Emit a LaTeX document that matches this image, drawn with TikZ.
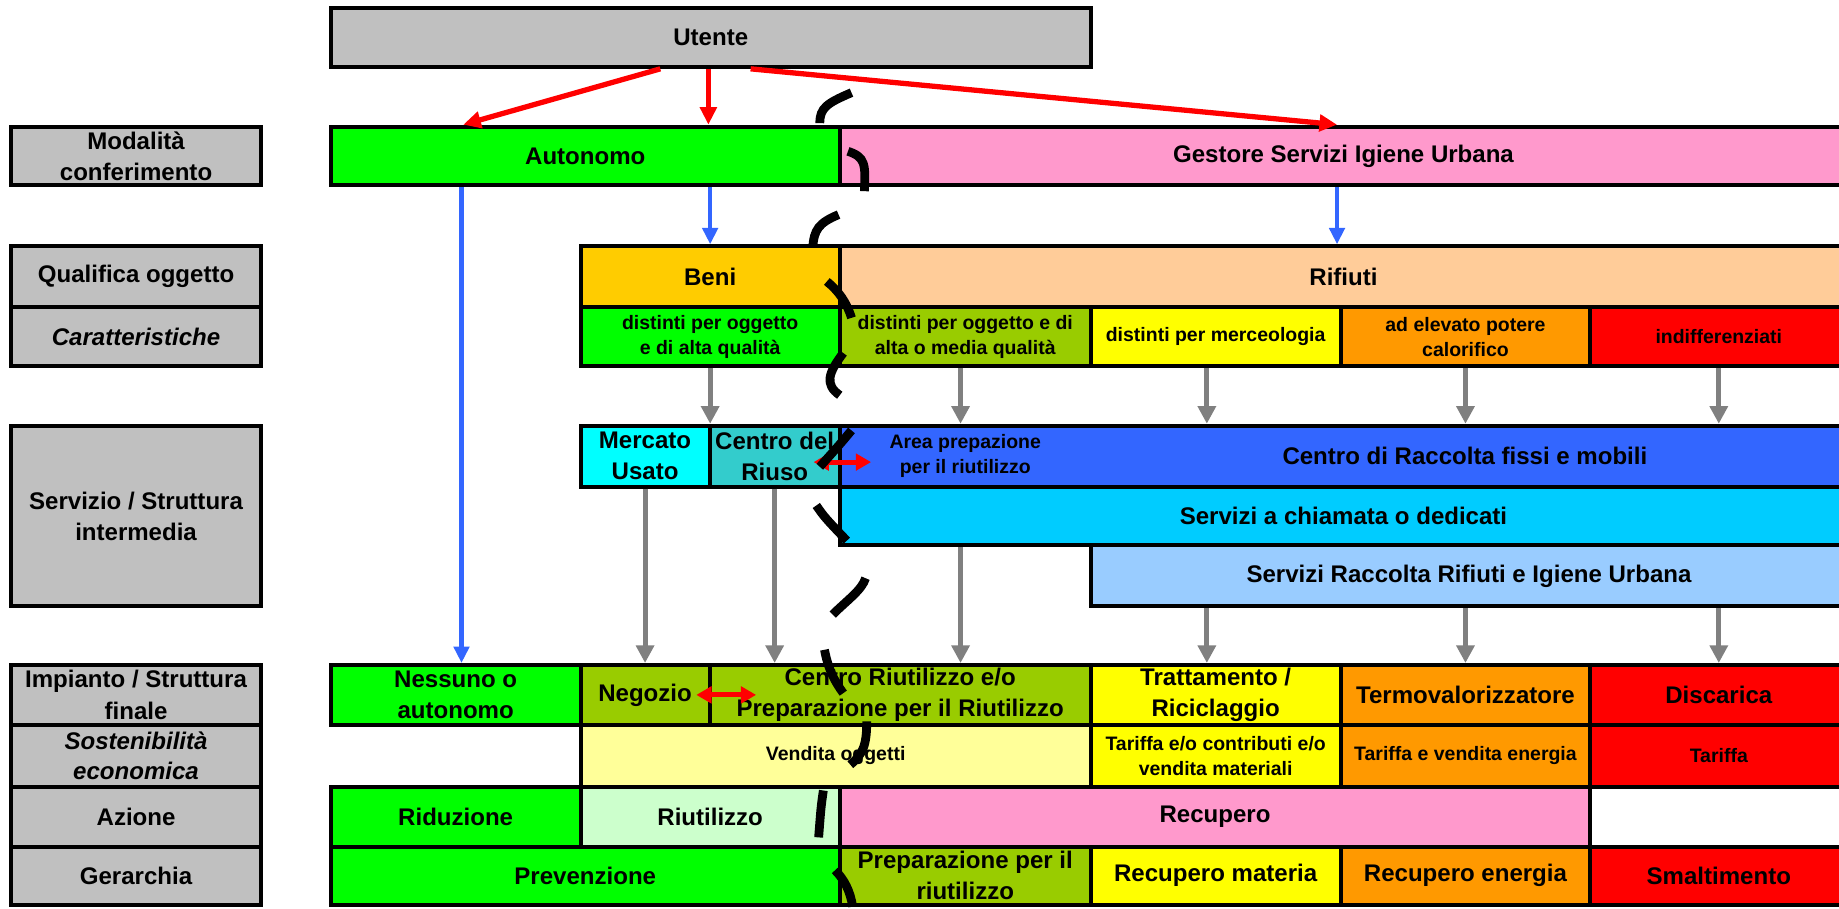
\documentclass[tikz,border=0pt]{standalone}
\usepackage{fontspec}
\setmainfont{Liberation Sans}
\usetikzlibrary{arrows.meta,calc}
\definecolor{lgray}{HTML}{C0C0C0}
\definecolor{cgreen}{HTML}{00FF00}
\definecolor{cpink}{HTML}{FF99CC}
\definecolor{cbeni}{HTML}{FFCC00}
\definecolor{crif}{HTML}{FFCC99}
\definecolor{colive}{HTML}{99CC00}
\definecolor{cyellow}{HTML}{FFFF00}
\definecolor{corange}{HTML}{FF9900}
\definecolor{cred}{HTML}{FF0000}
\definecolor{ccyan}{HTML}{00FFFF}
\definecolor{cteal}{HTML}{33CCCC}
\definecolor{cblue}{HTML}{3366FF}
\definecolor{csky}{HTML}{00CCFF}
\definecolor{clblue}{HTML}{99CCFF}
\definecolor{clyellow}{HTML}{FFFF99}
\definecolor{clgreen}{HTML}{CCFFCC}
\definecolor{cgrayarr}{HTML}{808080}
\newcommand\cell[8][]{%
  \pgfmathsetmacro\cellW{#5-#3}\pgfmathsetmacro\cellH{#6-#4}%
  \node[cellbox,fill=#7,minimum width=\cellW pt,minimum height=\cellH pt,#1] (#2) at ({(#3+#5)/2},{(#4+#6)/2}) {#8};}
\begin{document}
\begin{tikzpicture}[x=1pt,y=-1pt,
  cellbox/.style={draw=black,line width=3.4pt,inner sep=0pt,align=center,text=black,
    font=\bfseries\fontsize{20.5}{26.5}\selectfont},
  small/.style={font=\bfseries\fontsize{16.6}{21.3}\selectfont},
  ital/.style={font=\bfseries\itshape\fontsize{20.5}{25}\selectfont},
  txt/.style={inner sep=0pt,align=center,text=black,font=\bfseries\fontsize{20.5}{26.5}\selectfont},
  redarr/.style={draw=cred,line width=4.5pt,-{Triangle[length=15pt,width=14pt]}},
  redboth/.style={draw=cred,line width=4.3pt,{Triangle[length=13pt,width=14pt]}-{Triangle[length=13pt,width=14pt]}},
  bluearr/.style={draw=cblue,line width=3.5pt,-{Triangle[length=14pt,width=13pt]}},
  grayarr/.style={draw=cgrayarr,line width=4.3pt,-{Triangle[length=15pt,width=15pt]}},
  dashline/.style={draw=black,line width=7.5pt,line cap=butt}]
\useasboundingbox (0,0) rectangle (1568,775);
\clip (0,0) rectangle (1568,775);
% left labels
\cell{lab1}{9.7}{108}{222.3}{158}{lgray}{Modalità\\conferimento}
\cell{lab2}{9.7}{210}{222.3}{262}{lgray}{Qualifica oggetto}
\cell[ital]{lab3}{9.7}{262}{222.3}{312}{lgray}{Caratteristiche}
\cell{lab4}{9.7}{363}{222.3}{517}{lgray}{Servizio / Struttura\\intermedia}
\cell{lab5}{9.7}{567}{222.3}{618}{lgray}{Impianto / Struttura\\finale}
\cell[ital]{lab6}{9.7}{618}{222.3}{671}{lgray}{Sostenibilità\\economica}
\cell{lab7}{9.7}{671}{222.3}{722}{lgray}{Azione}
\cell{lab8}{9.7}{722}{222.3}{771.3}{lgray}{Gerarchia}
% top
\cell{utente}{282}{7}{930}{57}{lgray}{Utente}
\cell{autonomo}{282}{108}{716}{158}{cgreen}{Autonomo}
\cell{gestore}{716}{108}{1575}{158}{cpink}{Gestore Servizi Igiene Urbana}
% qualifica
\cell{beni}{495}{210}{716}{262}{cbeni}{Beni}
\cell{rifiuti}{716}{210}{1575}{262}{crif}{Rifiuti}
\cell[small]{c1}{495}{262}{716}{312}{cgreen}{distinti per oggetto\\e di alta qualità}
\cell[small]{c2}{716}{262}{930}{312}{colive}{distinti per oggetto e di\\alta o media qualità}
\cell[small]{c3}{930}{262}{1143}{312}{cyellow}{distinti per merceologia}
\cell[small]{c4}{1143}{262}{1356}{312}{corange}{ad elevato potere\\calorifico}
\cell[small]{c5}{1356}{262}{1575}{312}{cred}{indifferenziati}
% servizio
\cell{mercato}{495}{363}{605}{415}{ccyan}{Mercato\\Usato}
\cell{riuso}{605}{363}{716}{415}{cteal}{Centro del\\Riuso}
\cell{raccolta}{716}{363}{1575}{415}{cblue}{}
\node[txt,small] (areatxt) at (823,389) {Area prepazione\\per il riutilizzo};
\node[txt] (raccoltatxt) at (1249,389) {Centro di Raccolta fissi e mobili};
\cell{chiamata}{716}{415}{1575}{465}{csky}{Servizi a chiamata o dedicati}
\cell{srru}{930}{465}{1575}{517}{clblue}{Servizi Raccolta Rifiuti e Igiene Urbana}
% impianto
\cell{nessuno}{282}{567}{495}{618}{cgreen}{Nessuno o\\autonomo}
\cell{negozio}{495}{567}{605}{618}{colive}{Negozio}
\cell{criut}{605}{567}{930}{618}{colive}{Centro Riutilizzo e/o\\Preparazione per il Riutilizzo}
\cell{tratt}{930}{567}{1143}{618}{cyellow}{Trattamento /\\Riciclaggio}
\cell{termo}{1143}{567}{1356}{618}{corange}{Termovalorizzatore}
\cell{disc}{1356}{567}{1575}{618}{cred}{Discarica}
% sostenibilita
\cell[small]{vendita}{495}{618}{930}{671}{clyellow}{Vendita oggetti}
\cell[small]{tar1}{930}{618}{1143}{671}{cyellow}{Tariffa e/o contributi e/o\\vendita materiali}
\cell[small]{tar2}{1143}{618}{1356}{671}{corange}{Tariffa e vendita energia}
\cell[small]{tar3}{1356}{618}{1575}{671}{cred}{Tariffa}
% azione
\cell{rid}{282}{671}{495}{722}{cgreen}{Riduzione}
\cell{riut}{495}{671}{716}{722}{clgreen}{Riutilizzo}
\cell{recup}{716}{671}{1356}{722}{cpink}{Recupero}
\cell{blank}{1356}{671}{1575}{722}{white}{}
% gerarchia
\cell{prev}{282}{722}{716}{771.3}{cgreen}{Prevenzione}
\cell{prep}{716}{722}{930}{771.3}{colive}{Preparazione per il\\riutilizzo}
\cell{rmat}{930}{722}{1143}{771.3}{cyellow}{Recupero materia}
\cell{rene}{1143}{722}{1356}{771.3}{corange}{Recupero energia}
\cell{smalt}{1356}{722}{1575}{771.3}{cred}{Smaltimento}
% red arrows from Utente
\draw[redarr] ([xshift=-43pt]utente.south) -- ([xshift=-104pt]autonomo.north);
\draw[redarr] ([xshift=-2pt]utente.south) -- ([xshift=105pt]autonomo.north);
\draw[redarr] ([xshift=34pt]utente.south) -- ([xshift=-5.5pt]gestore.north);
% blue arrows
\draw[bluearr] ($(nessuno.north |- autonomo.south)+(5,0)$) -- ($(nessuno.north)+(5,0)$);
\draw[bluearr] (beni.north |- autonomo.south) -- (beni.north);
\draw[bluearr] ($(rifiuti.north |- gestore.south)+(-5.5,0)$) -- ($(rifiuti.north)+(-5.5,0)$);
% gray arrows row 4 -> row 5
\draw[grayarr] (c1.south) -- (c1.south |- mercato.north);
\draw[grayarr] ($(c2.south)+(-4,0)$) -- ($(c2.south |- raccolta.north)+(-4,0)$);
\draw[grayarr] ($(c3.south)+(-7.5,0)$) -- ($(c3.south |- raccolta.north)+(-7.5,0)$);
\draw[grayarr] (c4.south) -- (c4.south |- raccolta.north);
\draw[grayarr] (c5.south) -- (c5.south |- raccolta.north);
% gray arrows row 5-7 -> row 8
\draw[grayarr] (mercato.south) -- (negozio.north);
\draw[grayarr] (riuso.south) -- (riuso.south |- criut.north);
\draw[grayarr] ($(c2.south |- chiamata.south)+(-4,0)$) -- ($(c2.south |- criut.north)+(-4,0)$);
\draw[grayarr] ($(tratt.north |- srru.south)+(-7.5,0)$) -- ($(tratt.north)+(-7.5,0)$);
\draw[grayarr] (termo.north |- srru.south) -- (termo.north);
\draw[grayarr] (disc.north |- srru.south) -- (disc.north);
% red double arrows
\draw[redboth] ($(riuso.east)+(-24,5)$) -- ($(riuso.east)+(25,5)$);
\draw[redboth] ($(negozio.east)+(-13,0)$) -- ($(negozio.east)+(38,0)$);
% thick black dashed boundary
\draw[dashline] (699,105) .. controls (699,92) and (705,88) .. (726,79);
\draw[dashline] (723,129) .. controls (738,134) and (738,140) .. (737,163);
\draw[dashline] (715,183) .. controls (698,190) and (694,196) .. (693,211);
\draw[dashline] (705,240) .. controls (715,248) and (722,258) .. (726,271);
\draw[dashline] (719,301) .. controls (706,318) and (703,328) .. (716,337);
\draw[dashline] (726,367) .. controls (716,379) .. (699,398);
\draw[dashline] (696,431) .. controls (703,441) .. (722,461);
\draw[dashline] (738,493) .. controls (735,503) and (722,512) .. (710,524);
\draw[dashline] (703,554) .. controls (706,570) and (711,580) .. (719,591);
\draw[dashline] (739,615) .. controls (739,635) and (736,643) .. (725,652);
\draw[dashline] (702,674) .. controls (700,688) .. (698,714);
\draw[dashline] (712,742) .. controls (720,750) and (725,760) .. (727,773);
\end{tikzpicture}
\end{document}
